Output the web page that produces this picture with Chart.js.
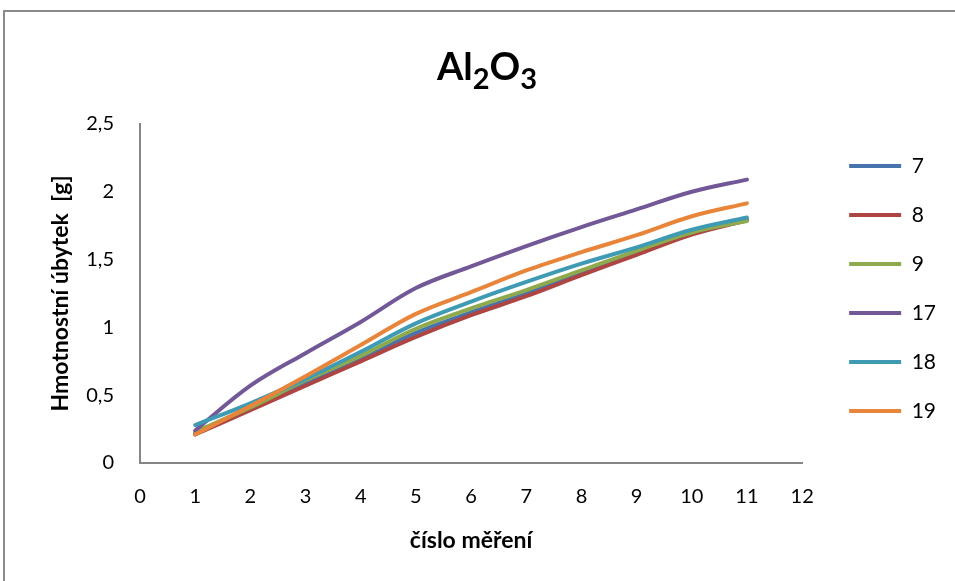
<!DOCTYPE html>
<html>
<head>
<meta charset="utf-8">
<script src="https://cdn.jsdelivr.net/npm/chart.js@4.4.1/dist/chart.umd.min.js"></script>
<style>
  html, body { margin: 0; padding: 0; background: #ffffff; }
  #wrap { position: relative; width: 955px; height: 581px; }
</style>
</head>
<body>
<div id="wrap"><canvas id="c" width="955" height="581"></canvas></div>
<script>
// ---- data ----
const measurements = [1, 2, 3, 4, 5, 6, 7, 8, 9, 10, 11];
const seriesNames = ['7', '8', '9', '17', '18', '19'];
const s7  = [0.22, 0.40, 0.59, 0.77, 0.96, 1.11, 1.25, 1.40, 1.55, 1.695, 1.79];
const s8  = [0.21, 0.39, 0.57, 0.75, 0.93, 1.09, 1.23, 1.385, 1.535, 1.685, 1.79];
const s9  = [0.23, 0.41, 0.61, 0.79, 0.99, 1.14, 1.275, 1.42, 1.565, 1.70, 1.785];
const s17 = [0.24, 0.57, 0.81, 1.04, 1.29, 1.45, 1.60, 1.74, 1.87, 2.00, 2.09];
const s18 = [0.28, 0.44, 0.62, 0.82, 1.03, 1.19, 1.335, 1.47, 1.59, 1.72, 1.81];
const s19 = [0.21, 0.42, 0.64, 0.87, 1.10, 1.26, 1.42, 1.555, 1.68, 1.82, 1.915];
const seriesValues = [s7, s8, s9, s17, s18, s19];
const seriesColors = ['#4774AD', '#AE4543', '#8EAA4C', '#725897', '#3F9AB4', '#E8853B'];
const yTickLabels = ['0', '0,5', '1', '1,5', '2', '2,5'];
const xTickLabels = ['0', '1', '2', '3', '4', '5', '6', '7', '8', '9', '10', '11', '12'];
const titleParts = [['Al', false], ['2', true], ['O', false], ['3', true]];
const yAxisTitle = 'Hmotnostní úbytek  [g]';
const xAxisTitle = 'číslo měření';

// ---- plugins ----
const framePlugin = {
  id: 'frame',
  beforeDraw(chart) {
    const ctx = chart.ctx;
    ctx.save();
    ctx.strokeStyle = '#8a8a8a';
    ctx.lineWidth = 2;
    ctx.beginPath();
    ctx.moveTo(4, 581);
    ctx.lineTo(4, 11);
    ctx.lineTo(955, 11);
    ctx.stroke();
    ctx.restore();
  }
};

const titlePlugin = {
  id: 'subTitle',
  afterDraw(chart) {
    const ctx = chart.ctx;
    ctx.save();
    ctx.fillStyle = '#000';
    ctx.textBaseline = 'alphabetic';
    const mainFont = 'bold 38px Lato';
    const subFont = 'bold 29px Lato';
    let total = 0;
    const widths = titleParts.map(([t, sub]) => {
      ctx.font = sub ? subFont : mainFont;
      const w = ctx.measureText(t).width;
      total += w;
      return w;
    });
    let x = 487 - total / 2;
    titleParts.forEach(([t, sub], i) => {
      ctx.font = sub ? subFont : mainFont;
      ctx.fillText(t, x, sub ? 89 : 80);
      x += widths[i];
    });
    ctx.restore();
  }
};

const legendShift = {
  id: 'legendShift',
  afterLayout(chart) {
    const lg = chart.legend;
    if (lg) {
      lg.left += 19; lg.right += 19;
      lg.top -= 5; lg.bottom -= 5;
    }
  }
};

// ---- chart ----
const datasets = seriesNames.map((name, i) => ({
  label: name,
  data: measurements.map((m, j) => ({ x: m, y: seriesValues[i][j] })),
  borderColor: seriesColors[i],
  backgroundColor: seriesColors[i],
  borderWidth: 4,
  pointRadius: 0,
  pointHoverRadius: 0,
  tension: 0.35,
  fill: false,
  borderCapStyle: 'round',
  borderJoinStyle: 'round',
  order: seriesNames.length - i
}));

new Chart(document.getElementById('c'), {
  type: 'line',
  data: { datasets },
  options: {
    responsive: false,
    animation: false,
    devicePixelRatio: 1,
    layout: { padding: { top: 124, left: 0, right: 28, bottom: 0 } },
    plugins: {
      title: { display: false },
      tooltip: { enabled: false },
      legend: {
        position: 'right',
        align: 'center',
        fullSize: false,
        labels: {
          boxWidth: 52,
          boxHeight: 4,
          padding: 28,
          color: '#000',
          font: { family: 'Lato', size: 21 },
          sort: (a, b) => a.datasetIndex - b.datasetIndex,
          generateLabels(chart) {
            const items = Chart.defaults.plugins.legend.labels.generateLabels(chart);
            items.forEach(it => { it.lineWidth = 0; });
            return items;
          }
        }
      }
    },
    scales: {
      x: {
        type: 'linear',
        min: 0,
        max: 12,
        afterFit(scale) { scale.height = 118; },
        ticks: {
          stepSize: 1,
          padding: 22,
          color: '#000',
          font: { family: 'Lato', size: 20 },
          callback: (v) => xTickLabels[Math.round(v)] ?? ''
        },
        grid: { display: false, drawTicks: false, drawOnChartArea: false },
        border: { display: true, color: '#868686', width: 2 },
        title: {
          display: true,
          text: xAxisTitle,
          color: '#000',
          font: { family: 'Lato', size: 23, weight: 'bold' },
          padding: { top: 0, bottom: 27 }
        }
      },
      y: {
        type: 'linear',
        min: 0,
        max: 2.5,
        afterFit(scale) { scale.width = 140; },
        ticks: {
          stepSize: 0.5,
          padding: 26,
          color: '#000',
          font: { family: 'Lato', size: 20 },
          callback: (v) => yTickLabels[Math.round(v * 2)] ?? ''
        },
        grid: { display: false, drawTicks: false, drawOnChartArea: false },
        border: { display: true, color: '#868686', width: 2 },
        title: {
          display: true,
          text: yAxisTitle,
          color: '#000',
          font: { family: 'Lato', size: 23, weight: 'bold' },
          padding: { top: 47, bottom: 0 }
        }
      }
    }
  },
  plugins: [framePlugin, titlePlugin, legendShift]
});
</script>
</body>
</html>
